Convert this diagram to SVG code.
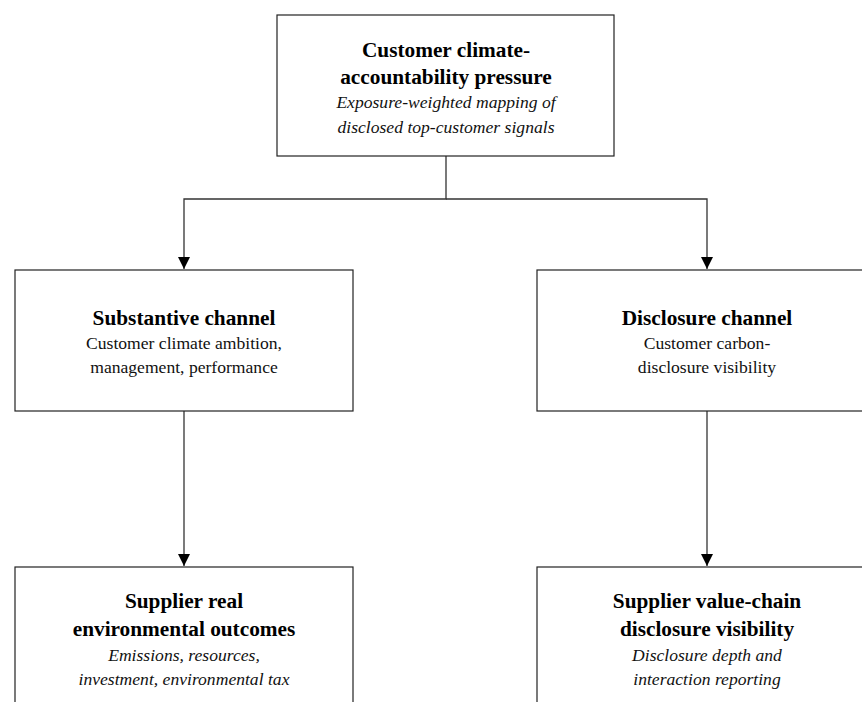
<svg xmlns="http://www.w3.org/2000/svg" width="862" height="702" viewBox="0 0 862 702">
<style>
.box{fill:#fff;stroke:#222;stroke-width:1.2}
.t{font-family:"Liberation Serif","Times New Roman",serif;font-weight:bold;font-size:21.3px;fill:#000;text-anchor:middle}
.s{font-family:"Liberation Serif","Times New Roman",serif;font-size:17.6px;fill:#111;text-anchor:middle}
.i{font-style:italic}
.c{fill:none;stroke:#333;stroke-width:1.3}
</style>
<defs>
<marker id="ah" viewBox="0 0 10 10" refX="10" refY="5" markerWidth="12" markerHeight="12" markerUnits="userSpaceOnUse" orient="auto">
<path d="M0,0 L10,5 L0,10 Z" fill="#000"/>
</marker>
</defs>
<rect width="862" height="702" fill="#fff"/>
<g id="connectors">
<path class="c" d="M446,156 V199 H184 V269" marker-end="url(#ah)"/>
<path class="c" d="M446,199 H707 V269" marker-end="url(#ah)"/>
<path class="c" d="M184,411 V566" marker-end="url(#ah)"/>
<path class="c" d="M707,411 V566" marker-end="url(#ah)"/>
</g>
<g id="pressure">
<rect class="box" x="277" y="15" width="337" height="141"/>
<text class="t" x="446" y="57">Customer climate-</text>
<text class="t" x="446" y="84">accountability pressure</text>
<text class="s i" x="446" y="108">Exposure-weighted mapping of</text>
<text class="s i" x="446" y="133">disclosed top-customer signals</text>
</g>
<g id="substantive">
<rect class="box" x="15" y="270" width="338" height="141"/>
<text class="t" x="184" y="325">Substantive channel</text>
<text class="s" x="184" y="349">Customer climate ambition,</text>
<text class="s" x="184" y="373">management, performance</text>
</g>
<g id="disclosure">
<rect class="box" x="537" y="270" width="340" height="141"/>
<text class="t" x="707" y="325">Disclosure channel</text>
<text class="s" x="707" y="349">Customer carbon-</text>
<text class="s" x="707" y="373">disclosure visibility</text>
</g>
<g id="real-outcomes">
<rect class="box" x="15" y="567" width="338" height="141"/>
<text class="t" x="184" y="608">Supplier real</text>
<text class="t" x="184" y="636">environmental outcomes</text>
<text class="s i" x="184" y="661">Emissions, resources,</text>
<text class="s i" x="184" y="685">investment, environmental tax</text>
</g>
<g id="value-chain">
<rect class="box" x="537" y="567" width="340" height="141"/>
<text class="t" x="707" y="608">Supplier value-chain</text>
<text class="t" x="707" y="636">disclosure visibility</text>
<text class="s i" x="707" y="661">Disclosure depth and</text>
<text class="s i" x="707" y="685">interaction reporting</text>
</g>
</svg>
